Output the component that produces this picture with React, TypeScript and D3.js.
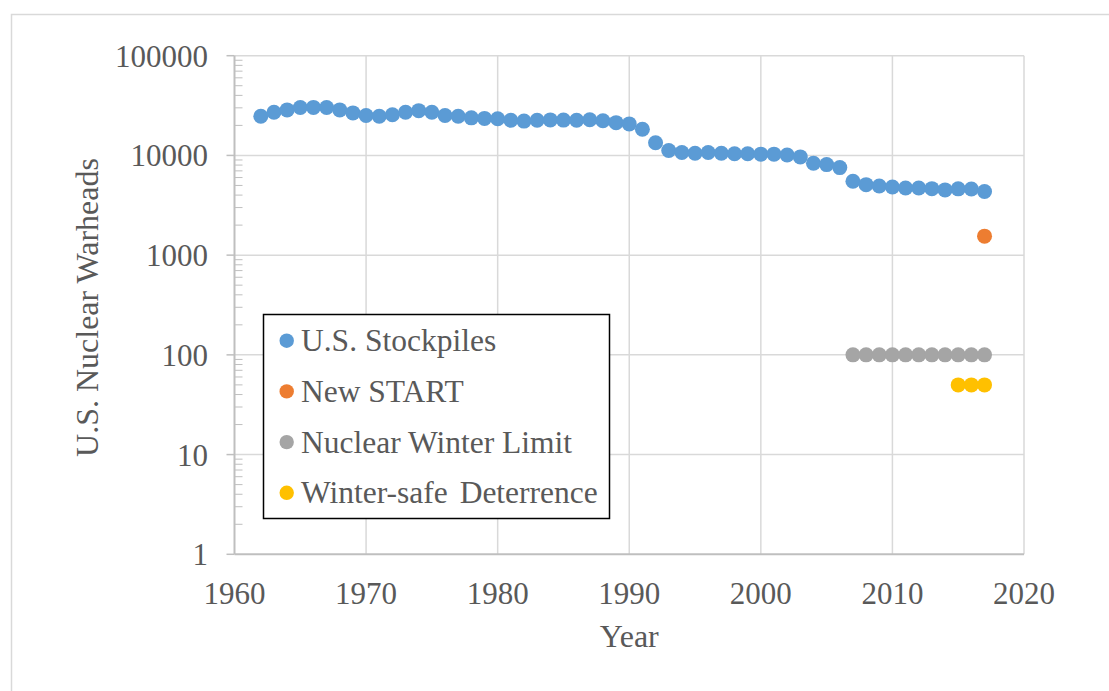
import { useRef, useEffect } from "react";
import * as d3 from "d3";

// U.S. stockpile, one value per year 1962-2017
const stockYears = [
  1962, 1963, 1964, 1965, 1966, 1967, 1968, 1969, 1970, 1971, 1972, 1973, 1974, 1975,
  1976, 1977, 1978, 1979, 1980, 1981, 1982, 1983, 1984, 1985, 1986, 1987, 1988, 1989,
  1990, 1991, 1992, 1993, 1994, 1995, 1996, 1997, 1998, 1999, 2000, 2001, 2002, 2003,
  2004, 2005, 2006, 2007, 2008, 2009, 2010, 2011, 2012, 2013, 2014, 2015, 2016, 2017,
];
const stockValues = [
  24700, 27100, 28600, 30200, 30300, 30200, 28600, 26700, 25100, 24700, 25600, 27100, 28100, 27100,
  25100, 24700, 23800, 23500, 23300, 22500, 22100, 22500, 22700, 22600, 22500, 22800, 22300, 21300,
  20700, 18300, 13400, 11200, 10700, 10500, 10700, 10500, 10400, 10400, 10300, 10300, 10100, 9660,
  8350, 8090, 7550, 5510, 5090, 4940, 4830, 4720, 4720, 4640, 4510, 4620, 4600, 4340,
];
const startYears = [2017];
const startValues = [1550];
const winterYears = [2007, 2008, 2009, 2010, 2011, 2012, 2013, 2014, 2015, 2016, 2017];
const winterValues = [100, 100, 100, 100, 100, 100, 100, 100, 100, 100, 100];
const safeYears = [2015, 2016, 2017];
const safeValues = [50, 50, 50];

const seriesNames = ["U.S. Stockpiles", "New START", "Nuclear Winter Limit", "Winter-safe Deterrence"];
const seriesColors = ["#5b9bd5", "#ed7d31", "#a5a5a5", "#ffc000"];

const xTicks = [1960, 1970, 1980, 1990, 2000, 2010, 2020];
const yTicks = [1, 10, 100, 1000, 10000, 100000];

export default function App() {
  const width = 1109;
  const height = 691;
  const left = 234.5, right = 1024, top = 55.7, bottom = 554.3;
  const font = "'Liberation Serif', 'Times New Roman', serif";
  const textColor = "#595959";
  const root = useRef<SVGSVGElement>(null);

  const x = d3.scaleLinear([1960, 2020], [left, right]);
  const y = d3.scaleLog([1, 100000], [bottom, top]);

  useEffect(() => {
    const svg = d3.select(root.current);
    svg.selectAll("*").remove();

    // outer chart frame
    svg.append("rect")
      .attr("x", 11.5).attr("y", 14.5)
      .attr("width", 1200).attr("height", 800)
      .attr("fill", "white")
      .attr("stroke", "#d9d9d9").attr("stroke-width", 1.5);

    // gridlines
    svg.append("g").selectAll("line")
      .data(yTicks.slice(1))
      .enter().append("line")
      .attr("x1", left).attr("x2", right)
      .attr("y1", d => y(d)).attr("y2", d => y(d))
      .attr("stroke", "#d9d9d9").attr("stroke-width", 1.5);
    svg.append("g").selectAll("line")
      .data(xTicks.slice(1))
      .enter().append("line")
      .attr("x1", d => x(d)).attr("x2", d => x(d))
      .attr("y1", top).attr("y2", bottom)
      .attr("stroke", "#d9d9d9").attr("stroke-width", 1.5);

    // y minor ticks (inside) and major ticks (outside)
    const minors: number[] = [];
    yTicks.slice(0, -1).forEach(p => [2, 3, 4, 5, 6, 7, 8, 9].forEach(m => minors.push(p * m)));
    svg.append("g").selectAll("line")
      .data(minors)
      .enter().append("line")
      .attr("x1", left).attr("x2", left + 8)
      .attr("y1", d => y(d)).attr("y2", d => y(d))
      .attr("stroke", "#bfbfbf").attr("stroke-width", 1);
    svg.append("g").selectAll("line")
      .data(yTicks)
      .enter().append("line")
      .attr("x1", left - 8).attr("x2", left)
      .attr("y1", d => y(d)).attr("y2", d => y(d))
      .attr("stroke", "#bfbfbf").attr("stroke-width", 1.5);

    // axis lines
    svg.append("line")
      .attr("x1", left).attr("x2", left).attr("y1", top).attr("y2", bottom)
      .attr("stroke", "#bfbfbf").attr("stroke-width", 2);
    svg.append("line")
      .attr("x1", left).attr("x2", right).attr("y1", bottom).attr("y2", bottom)
      .attr("stroke", "#bfbfbf").attr("stroke-width", 2);

    // tick labels
    svg.append("g").selectAll("text")
      .data(yTicks)
      .enter().append("text")
      .attr("x", 208).attr("y", d => y(d) + 11)
      .attr("text-anchor", "end")
      .attr("font-family", font).attr("font-size", 31).attr("fill", textColor)
      .text(d => d3.format("d")(d));
    svg.append("g").selectAll("text")
      .data(xTicks)
      .enter().append("text")
      .attr("x", d => x(d)).attr("y", 604)
      .attr("text-anchor", "middle")
      .attr("font-family", font).attr("font-size", 31).attr("fill", textColor)
      .text(d => String(d));

    // axis titles
    svg.append("text")
      .attr("transform", "translate(98," + 307.5 + ") rotate(-90)")
      .attr("text-anchor", "middle")
      .attr("font-family", font).attr("font-size", 32).attr("fill", textColor)
      .text("U.S. Nuclear Warheads");
    svg.append("text")
      .attr("x", x(1990)).attr("y", 647)
      .attr("text-anchor", "middle")
      .attr("font-family", font).attr("font-size", 32).attr("fill", textColor)
      .text("Year");

    // series points
    const series = [
      { years: stockYears, values: stockValues },
      { years: startYears, values: startValues },
      { years: winterYears, values: winterValues },
      { years: safeYears, values: safeValues },
    ];
    series.forEach((s, i) => {
      svg.append("g").selectAll("circle")
        .data(s.years)
        .enter().append("circle")
        .attr("cx", d => x(d))
        .attr("cy", (d, j) => y(s.values[j]))
        .attr("r", 7.5)
        .attr("fill", seriesColors[i]);
    });

    // legend
    const lg = svg.append("g");
    lg.append("rect")
      .attr("x", 263.5).attr("y", 314.5)
      .attr("width", 346).attr("height", 204)
      .attr("fill", "white")
      .attr("stroke", "black").attr("stroke-width", 1.5);
    seriesNames.forEach((name, i) => {
      const cy = 340.7 + i * 50.7;
      lg.append("circle")
        .attr("cx", 286.7).attr("cy", cy).attr("r", 7.2)
        .attr("fill", seriesColors[i]);
      lg.append("text")
        .attr("x", 301).attr("y", cy + 10.5)
        .attr("font-family", font).attr("font-size", 31.5).attr("fill", textColor)
        .attr("word-spacing", i === 3 ? 4 : 0)
        .text(name);
    });
  });

  return (
    <svg ref={root} width={width} height={height}
      style={{ position: "absolute", left: 0, top: 0, background: "white" }}>
    </svg>
  );
}
